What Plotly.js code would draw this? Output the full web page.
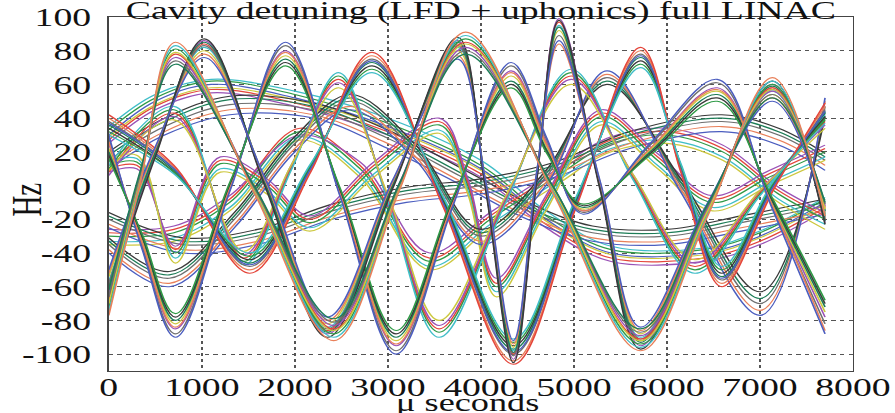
<!DOCTYPE html>
<html>
<head>
<meta charset="utf-8">
<script src="https://cdn.plot.ly/plotly-3.0.1.min.js"></script>
<style>
html, body { margin: 0; padding: 0; width: 895px; height: 413px; overflow: hidden; background: #fff; }
#chart { width: 617px; height: 413px; transform: scaleX(1.4506); transform-origin: 0 0; }
</style>
</head>
<body>
<div id="chart"></div>
<script>
// ---- data (time in microseconds, detuning in Hz) ----
const titleText = 'Cavity detuning (LFD + uphonics) full LINAC';
const xTitle = 'μ seconds';
const yTitle = 'Hz';
const xTicks = [0, 1000, 2000, 3000, 4000, 5000, 6000, 7000, 8000];
const yTicks = [-100, -80, -60, -40, -20, 0, 20, 40, 60, 80, 100];

const bundleA_x = [0, 340, 717, 1570, 2418, 3130, 3835, 4780, 5717, 6430, 7135, 7700];
const bundleA_y = [
  [-72, 5, 81, -3, -88, 0, 87, -3, -94, -17, 60, -15],
  [-68, 7, 78, -2, -85, 1, 85, -2, -91, -15, 58, -13],
  [-75, 3, 83, -4, -90, -1, 89, -4, -96, -18, 62, -17],
  [-64, 8, 76, -1, -83, 2, 82, -1, -89, -14, 56, -12],
  [-70, 6, 79, -3, -86, 0, 84, -2, -92, -16, 57, -14],
  [-66, 7, 74, -2, -81, 1, 80, -1, -87, -13, 54, -11],
  [-62, 9, 72, -1, -79, 2, 78, -1, -85, -12, 52, -10],
  [-77, 2, 85, -5, -92, -2, 91, -5, -98, -19, 64, -18]
];

const bundleB_x = [0, 360, 717, 1310, 1900, 2490, 3088, 3700, 4325, 4710, 5100, 5820, 6540, 7120, 7700];
const bundleB_y = [
  [25, -35, -85, 0, 80, -5, -95, -10, 68, 25, -15, 22, 58, -10, -78],
  [22, -33, -82, 1, 77, -4, -92, -9, 65, 23, -14, 21, 56, -9, -75],
  [28, -37, -88, -1, 83, -6, -98, -11, 71, 27, -16, 24, 61, -11, -82],
  [20, -31, -80, 2, 75, -3, -90, -8, 62, 21, -13, 20, 54, -8, -72],
  [26, -34, -84, 0, 79, -5, -94, -10, 67, 24, -15, 22, 57, -10, -86],
  [18, -30, -78, 2, 73, -3, -88, -8, 60, 20, -12, 19, 52, -7, -70],
  [30, -38, -90, -2, 85, -7, -100, -12, 73, 28, -17, 25, 63, -12, -88],
  [16, -29, -76, 3, 71, -2, -86, -7, 58, 19, -11, 18, 50, -6, -68]
];

const bundleC_x = [0, 500, 1026, 1690, 2350, 3050, 3750, 4050, 4350, 4600, 4840, 5280, 5717, 6430, 7135, 7700];
const bundleC_y = [
  [-60, 20, 84, 0, -86, 0, 84, 0, -100, 5, 97, 0, -92, -15, 58, -20],
  [-57, 21, 82, 1, -84, 1, 82, 1, -98, 6, 95, 1, -90, -14, 56, -18],
  [-63, 18, 86, -1, -88, -1, 86, -1, -103, 4, 99, -1, -95, -16, 60, -22],
  [-54, 22, 80, 2, -82, 2, 80, 2, -96, 7, 92, 2, -88, -13, 54, -17],
  [-58, 19, 83, 0, -85, 0, 83, 0, -101, 5, 89, 0, -91, -15, 57, -19],
  [-61, 20, 85, 0, -87, 0, 85, 0, -99, 5, 94, 0, -93, -15, 59, -21],
  [-52, 22, 78, 2, -80, 2, 77, 2, -94, 7, 84, 2, -86, -12, 52, -16],
  [-65, 17, 87, -2, -90, -2, 88, -2, -105, 3, 98, -2, -97, -17, 62, -23],
  [-50, 23, 76, 3, -78, 3, 75, 3, -92, 8, 86, 3, -84, -11, 50, -15]
];

const bundleF_x = [0, 700, 1515, 2170, 2830, 3590, 4350, 5030, 5717, 6150, 6590, 7150, 7700];
const bundleF_y = [
  [38, 10, -48, 10, 75, -10, -100, -10, 78, 10, -56, 0, 45],
  [36, 9, -46, 11, 73, -9, -97, -9, 76, 11, -54, 1, 43],
  [40, 11, -50, 9, 77, -11, -104, -11, 80, 9, -58, -1, 47],
  [34, 8, -44, 12, 71, -8, -95, -8, 74, 12, -52, 2, 41],
  [37, 10, -47, 10, 74, -10, -99, -10, 77, 10, -55, 0, 44],
  [32, 8, -42, 12, 69, -7, -93, -7, 72, 12, -50, 2, 39],
  [42, 12, -52, 8, 79, -12, -106, -12, 82, 8, -60, -2, 49],
  [30, 7, -40, 13, 67, -6, -91, -6, 70, 13, -48, 3, 37]
];

const bundleE_x = [0, 700, 1450, 1960, 2470, 3010, 3550, 4260, 4970, 5630, 6300, 7000, 7700];
const bundleE_y = [
  [10, 45, -45, 10, 65, -10, -87, -10, 67, 5, -50, -5, 40],
  [8, 43, -43, 11, 63, -9, -85, -9, 65, 6, -48, -4, 38],
  [12, 47, -47, 9, 67, -11, -90, -11, 69, 4, -52, -6, 42],
  [6, 41, -41, 12, 61, -8, -83, -8, 63, 7, -46, -3, 36],
  [9, 39, -39, 12, 58, -7, -80, -7, 60, 7, -44, -3, 34]
];

const bundleS1_x = [0, 500, 1100, 2000, 3000, 4000, 4700, 5400, 6400, 7000, 7700];
const bundleS1_y = [
  [30, 50, 60, 52, 35, 10, -20, -40, -40, -30, -10],
  [33, 52, 62, 54, 37, 12, -18, -38, -38, -28, -8],
  [27, 47, 57, 49, 32, 7, -23, -43, -43, -33, -13],
  [35, 54, 63, 56, 40, 15, -15, -36, -37, -27, -7],
  [25, 45, 55, 47, 30, 5, -25, -45, -45, -35, -15],
  [29, 48, 58, 51, 34, 9, -21, -41, -41, -31, -11]
];

const bundleS4_x = [0, 600, 1300, 2200, 3000, 3800, 4500, 5200, 6000, 6800, 7700];
const bundleS4_y = [
  [15, 35, 48, 45, 28, 5, -15, -28, -30, -22, -12],
  [18, 38, 51, 47, 30, 7, -13, -26, -28, -20, -10],
  [12, 32, 45, 42, 25, 2, -18, -31, -33, -25, -15],
  [20, 40, 53, 49, 33, 10, -10, -24, -26, -18, -8],
  [10, 30, 42, 40, 22, 0, -20, -33, -35, -27, -17]
];

const bundleS2_x = [0, 700, 1300, 2056, 2700, 3450, 4100, 4800, 5400, 6000, 6600, 7200, 7700];
const bundleS2_y = [
  [-30, -28, -10, 32, 10, -45, -20, 5, 25, 30, 20, -5, -20],
  [-28, -26, -8, 34, 12, -43, -18, 7, 27, 32, 22, -3, -18],
  [-33, -31, -13, 29, 7, -48, -23, 2, 22, 27, 17, -8, -23],
  [-26, -24, -6, 30, 14, -40, -16, 9, 29, 34, 24, -1, -16],
  [-35, -33, -15, 27, 5, -50, -25, 0, 20, 25, 15, -10, -26]
];

const bundleS3_x = [0, 800, 1600, 2400, 3200, 4000, 4800, 5600, 6590, 7200, 7700];
const bundleS3_y = [
  [-20, -35, -30, -15, -5, 0, 10, 28, 38, 30, 15],
  [-18, -33, -28, -13, -3, 2, 12, 30, 40, 32, 17],
  [-23, -38, -33, -18, -8, -3, 7, 25, 35, 27, 12],
  [-16, -31, -26, -11, -1, 4, 14, 32, 42, 34, 19],
  [-25, -40, -35, -20, -10, -5, 5, 22, 32, 24, 9]
];

const bundleG_x = [0, 650, 1350, 2000, 2600, 3300, 4000, 4700, 5355, 6150, 7005, 7700];
const bundleG_y = [
  [-35, -55, -20, 25, 50, 20, -30, 5, 64, 0, -70, 47],
  [-33, -53, -18, 27, 52, 22, -28, 7, 62, 2, -67, 44],
  [-38, -58, -23, 22, 47, 17, -33, 2, 66, -2, -74, 50],
  [-31, -51, -16, 29, 54, 24, -26, 9, 60, 4, -63, 41],
  [-40, -60, -25, 20, 45, 15, -35, 0, 68, -4, -77, 52]
];

const bundleH_x = [0, 300, 717, 1200, 1700, 2160, 2850, 3550, 3860, 4170, 4700, 5300, 5900, 6490, 7100, 7700];
const bundleH_y = [
  [12, 14, -40, 13, 0, -22, 10, 36, 0, -60, -10, 41, 15, -10, 5, 20],
  [10, 12, -38, 15, 2, -20, 12, 38, 2, -58, -8, 43, 17, -8, 7, 22],
  [14, 16, -43, 10, -3, -25, 7, 33, -3, -63, -13, 38, 12, -13, 2, 17],
  [8, 10, -36, 17, 4, -18, 14, 40, 4, -55, -6, 45, 19, -6, 9, 24],
  [16, 18, -46, 8, -5, -27, 5, 31, -5, -66, -15, 36, 10, -15, 0, 15]
];

const lineColors = ['#4b5dbf', '#2f9a46', '#e4463b', '#40bec8', '#9a52b6',
                    '#cdc83f', '#6f6f6f', '#1d7d57', '#e9805a', '#3a3a3a'];

// ---- build traces ----
const bundles = [
  [bundleS1_x, bundleS1_y], [bundleS4_x, bundleS4_y], [bundleS2_x, bundleS2_y],
  [bundleS3_x, bundleS3_y], [bundleH_x, bundleH_y], [bundleG_x, bundleG_y],
  [bundleE_x, bundleE_y], [bundleF_x, bundleF_y], [bundleB_x, bundleB_y],
  [bundleC_x, bundleC_y], [bundleA_x, bundleA_y]
];
const traces = [];
let ci = 0;
bundles.forEach(function (b) {
  b[1].forEach(function (ys) {
    traces.push({
      type: 'scatter', mode: 'lines', x: b[0], y: ys,
      line: { color: lineColors[ci % lineColors.length], width: 1.15, shape: 'spline', smoothing: 1 },
      hoverinfo: 'skip', showlegend: false
    });
    ci += 1;
  });
});

const fontFam = 'Liberation Serif, Times New Roman, serif';
const layout = {
  width: 617, height: 413,
  margin: { l: 75, r: 29, t: 17, b: 42, pad: 0 },
  paper_bgcolor: '#ffffff', plot_bgcolor: '#ffffff',
  showlegend: false,
  font: { family: fontFam, color: '#111', size: 26 },
  title: { text: titleText, font: { family: fontFam, size: 26, color: '#111' },
           xref: 'paper', x: 0.5, xanchor: 'center', yref: 'container', y: 0.975, yanchor: 'middle' },
  xaxis: {
    range: [0, 8000], tickvals: xTicks, ticktext: xTicks.map(String),
    showgrid: true, gridcolor: '#555', griddash: 'dot', gridwidth: 1,
    zeroline: false, showline: true, mirror: true, linecolor: '#444', linewidth: 1,
    ticks: '', ticklabelstandoff: -7, tickfont: { family: fontFam, size: 26, color: '#111' }, fixedrange: true
  },
  yaxis: {
    range: [-110, 100], tickvals: yTicks, ticktext: yTicks.map(String),
    showgrid: true, gridcolor: '#555', griddash: 'dot', gridwidth: 1,
    zeroline: false, showline: true, mirror: true, linecolor: '#444', linewidth: 1,
    ticks: '', ticklabelstandoff: 6, tickfont: { family: fontFam, size: 26, color: '#111' }, fixedrange: true
  },
  annotations: [
    { text: yTitle, xref: 'paper', yref: 'paper', x: -0.11, y: 0.483, xanchor: 'center', yanchor: 'middle',
      textangle: -90, showarrow: false, font: { family: fontFam, size: 29, color: '#111' } },
    { text: xTitle, xref: 'paper', yref: 'paper', x: 0.483, y: -0.133, xanchor: 'center', yanchor: 'bottom',
      showarrow: false, font: { family: fontFam, size: 25, color: '#111' } }
  ]
};

Plotly.newPlot('chart', traces, layout, { displayModeBar: false, staticPlot: true, responsive: false });
</script>
</body>
</html>
